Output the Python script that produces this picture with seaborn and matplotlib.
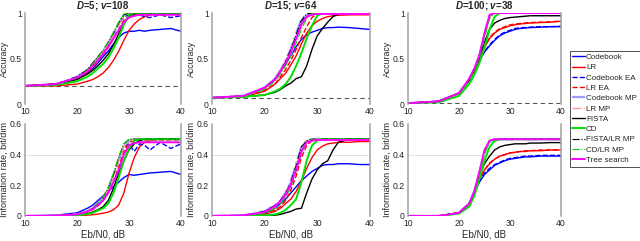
import numpy as np
import matplotlib as mpl
mpl.use("Agg")
import matplotlib.pyplot as plt
import seaborn as sns

EBN0 = [10, 16, 20, 22, 23, 24, 25, 26, 27, 28, 29, 30, 31, 32, 33, 34, 36, 38, 40]

TITLES = ["D=5; v=108", "D=15; v=64", "D=100; v=38"]
CHANCE = [0.2, 1 / 15, 0.01]

# accuracy, D=5
acc_d5 = dict(
    codebook=[0.20, 0.22, 0.28, 0.34, 0.39, 0.45, 0.52, 0.58, 0.66, 0.73, 0.78, 0.80, 0.80, 0.81, 0.80, 0.81, 0.82, 0.83, 0.80],
    lr=[0.20, 0.20, 0.22, 0.25, 0.27, 0.30, 0.34, 0.40, 0.48, 0.58, 0.70, 0.81, 0.88, 0.93, 0.96, 0.98, 1.00, 1.00, 1.00],
    codebook_ea=[0.20, 0.22, 0.29, 0.37, 0.43, 0.50, 0.57, 0.66, 0.76, 0.87, 0.96, 0.98, 0.97, 0.98, 0.96, 0.95, 0.98, 0.95, 0.97],
    lr_ea=[0.20, 0.22, 0.27, 0.34, 0.40, 0.47, 0.54, 0.62, 0.72, 0.82, 0.92, 0.97, 0.98, 0.99, 0.99, 0.99, 0.99, 0.99, 0.99],
    codebook_mp=[0.20, 0.22, 0.30, 0.38, 0.44, 0.51, 0.58, 0.67, 0.77, 0.88, 0.98, 1.00, 1.00, 1.00, 1.00, 1.00, 1.00, 1.00, 1.00],
    lr_mp=[0.20, 0.22, 0.29, 0.37, 0.43, 0.50, 0.57, 0.66, 0.76, 0.87, 0.97, 1.00, 1.00, 1.00, 1.00, 1.00, 1.00, 1.00, 1.00],
    fista=[0.20, 0.22, 0.27, 0.33, 0.37, 0.42, 0.48, 0.55, 0.65, 0.77, 0.89, 0.97, 0.99, 1.00, 1.00, 1.00, 1.00, 1.00, 1.00],
    cd=[0.20, 0.21, 0.25, 0.30, 0.34, 0.39, 0.44, 0.51, 0.61, 0.73, 0.87, 0.98, 1.00, 1.00, 1.00, 1.00, 1.00, 1.00, 1.00],
    fista_mp=[0.20, 0.22, 0.30, 0.38, 0.45, 0.52, 0.59, 0.68, 0.78, 0.89, 0.98, 1.00, 1.00, 1.00, 1.00, 1.00, 1.00, 1.00, 1.00],
    cd_mp=[0.20, 0.22, 0.29, 0.37, 0.44, 0.51, 0.59, 0.68, 0.79, 0.90, 0.99, 1.00, 1.00, 1.00, 1.00, 1.00, 1.00, 1.00, 1.00],
    tree=[0.20, 0.22, 0.29, 0.36, 0.42, 0.48, 0.55, 0.63, 0.72, 0.81, 0.90, 0.95, 0.97, 0.98, 0.98, 0.98, 0.98, 0.98, 0.98],
)

# accuracy, D=15
acc_d15 = dict(
    codebook=[0.07, 0.09, 0.17, 0.27, 0.35, 0.44, 0.53, 0.63, 0.71, 0.76, 0.79, 0.81, 0.83, 0.84, 0.84, 0.845, 0.84, 0.83, 0.82],
    lr=[0.07, 0.08, 0.14, 0.22, 0.28, 0.34, 0.43, 0.53, 0.66, 0.78, 0.86, 0.91, 0.94, 0.96, 0.97, 0.975, 0.98, 0.98, 0.98],
    codebook_ea=[0.07, 0.09, 0.18, 0.28, 0.36, 0.46, 0.58, 0.74, 0.90, 0.98, 1.00, 1.00, 1.00, 1.00, 1.00, 1.00, 1.00, 1.00, 1.00],
    lr_ea=[0.07, 0.08, 0.15, 0.22, 0.30, 0.38, 0.48, 0.60, 0.73, 0.85, 0.95, 0.99, 1.00, 1.00, 1.00, 1.00, 1.00, 1.00, 1.00],
    codebook_mp=[0.07, 0.09, 0.18, 0.28, 0.37, 0.48, 0.61, 0.78, 0.93, 0.99, 1.00, 1.00, 1.00, 1.00, 1.00, 1.00, 1.00, 1.00, 1.00],
    lr_mp=[0.07, 0.09, 0.17, 0.27, 0.35, 0.45, 0.57, 0.72, 0.87, 0.97, 1.00, 1.00, 1.00, 1.00, 1.00, 1.00, 1.00, 1.00, 1.00],
    fista=[0.07, 0.08, 0.10, 0.13, 0.16, 0.20, 0.23, 0.28, 0.30, 0.42, 0.60, 0.75, 0.83, 0.90, 0.96, 0.99, 1.00, 1.00, 1.00],
    cd=[0.07, 0.08, 0.10, 0.14, 0.17, 0.22, 0.30, 0.42, 0.56, 0.72, 0.86, 0.97, 1.00, 1.00, 1.00, 1.00, 1.00, 1.00, 1.00],
    fista_mp=[0.07, 0.09, 0.18, 0.28, 0.36, 0.47, 0.60, 0.76, 0.92, 0.99, 1.00, 1.00, 1.00, 1.00, 1.00, 1.00, 1.00, 1.00, 1.00],
    cd_mp=[0.07, 0.08, 0.16, 0.25, 0.33, 0.42, 0.53, 0.67, 0.82, 0.94, 0.99, 1.00, 1.00, 1.00, 1.00, 1.00, 1.00, 1.00, 1.00],
    tree=[0.07, 0.09, 0.18, 0.27, 0.36, 0.45, 0.57, 0.72, 0.87, 0.96, 0.98, 0.99, 0.99, 0.99, 0.99, 0.99, 0.99, 0.99, 0.99],
)

# accuracy, D=100
acc_d100 = dict(
    codebook=[0.01, 0.03, 0.12, 0.26, 0.36, 0.48, 0.57, 0.64, 0.70, 0.75, 0.78, 0.80, 0.82, 0.83, 0.835, 0.84, 0.845, 0.85, 0.85],
    lr=[0.01, 0.03, 0.12, 0.26, 0.37, 0.50, 0.62, 0.72, 0.78, 0.82, 0.84, 0.86, 0.87, 0.88, 0.885, 0.89, 0.895, 0.90, 0.91],
    codebook_ea=[0.01, 0.03, 0.12, 0.26, 0.37, 0.49, 0.58, 0.65, 0.71, 0.76, 0.79, 0.81, 0.83, 0.84, 0.84, 0.845, 0.85, 0.85, 0.855],
    lr_ea=[0.01, 0.03, 0.12, 0.26, 0.37, 0.50, 0.63, 0.73, 0.79, 0.83, 0.85, 0.87, 0.88, 0.885, 0.89, 0.895, 0.90, 0.905, 0.91],
    codebook_mp=[0.01, 0.03, 0.12, 0.27, 0.38, 0.53, 0.76, 0.97, 1.00, 1.00, 1.00, 1.00, 1.00, 1.00, 1.00, 1.00, 1.00, 1.00, 1.00],
    lr_mp=[0.01, 0.03, 0.12, 0.27, 0.38, 0.53, 0.75, 0.96, 1.00, 1.00, 1.00, 1.00, 1.00, 1.00, 1.00, 1.00, 1.00, 1.00, 1.00],
    fista=[0.01, 0.03, 0.12, 0.26, 0.37, 0.51, 0.68, 0.82, 0.89, 0.92, 0.94, 0.95, 0.955, 0.96, 0.965, 0.97, 0.97, 0.97, 0.97],
    cd=[0.01, 0.02, 0.09, 0.22, 0.32, 0.45, 0.62, 0.82, 0.96, 1.00, 1.00, 1.00, 1.00, 1.00, 1.00, 1.00, 1.00, 1.00, 1.00],
    fista_mp=[0.01, 0.03, 0.12, 0.27, 0.38, 0.53, 0.76, 0.97, 1.00, 1.00, 1.00, 1.00, 1.00, 1.00, 1.00, 1.00, 1.00, 1.00, 1.00],
    cd_mp=[0.01, 0.03, 0.11, 0.25, 0.36, 0.50, 0.72, 0.94, 1.00, 1.00, 1.00, 1.00, 1.00, 1.00, 1.00, 1.00, 1.00, 1.00, 1.00],
    tree=[0.01, 0.03, 0.12, 0.28, 0.39, 0.54, 0.78, 0.98, 1.00, 1.00, 1.00, 1.00, 1.00, 1.00, 1.00, 1.00, 1.00, 1.00, 1.00],
)

# information rate (bit/dim), D=5
rate_d5 = dict(
    codebook=[0.0, 0.005, 0.02, 0.05, 0.07, 0.10, 0.13, 0.16, 0.19, 0.22, 0.25, 0.27, 0.265, 0.27, 0.275, 0.28, 0.285, 0.29, 0.27],
    lr=[0.0, 0.0, 0.002, 0.005, 0.008, 0.012, 0.018, 0.025, 0.04, 0.07, 0.15, 0.28, 0.38, 0.45, 0.48, 0.49, 0.50, 0.50, 0.50],
    codebook_ea=[0.0, 0.002, 0.01, 0.03, 0.05, 0.08, 0.12, 0.17, 0.26, 0.36, 0.45, 0.47, 0.42, 0.47, 0.46, 0.43, 0.48, 0.44, 0.47],
    lr_ea=[0.0, 0.002, 0.01, 0.025, 0.04, 0.065, 0.10, 0.15, 0.22, 0.32, 0.42, 0.48, 0.49, 0.495, 0.495, 0.495, 0.495, 0.495, 0.495],
    codebook_mp=[0.0, 0.002, 0.01, 0.03, 0.05, 0.08, 0.12, 0.18, 0.27, 0.37, 0.46, 0.49, 0.50, 0.50, 0.50, 0.50, 0.50, 0.50, 0.50],
    lr_mp=[0.0, 0.002, 0.01, 0.03, 0.05, 0.08, 0.12, 0.17, 0.26, 0.36, 0.45, 0.49, 0.50, 0.50, 0.50, 0.50, 0.50, 0.50, 0.50],
    fista=[0.0, 0.0, 0.005, 0.015, 0.025, 0.04, 0.06, 0.10, 0.18, 0.28, 0.36, 0.43, 0.47, 0.49, 0.50, 0.50, 0.50, 0.50, 0.50],
    cd=[0.0, 0.0, 0.004, 0.012, 0.02, 0.035, 0.05, 0.08, 0.15, 0.25, 0.36, 0.44, 0.49, 0.50, 0.50, 0.50, 0.50, 0.50, 0.50],
    fista_mp=[0.0, 0.002, 0.01, 0.03, 0.05, 0.08, 0.12, 0.18, 0.27, 0.38, 0.47, 0.50, 0.50, 0.50, 0.50, 0.50, 0.50, 0.50, 0.50],
    cd_mp=[0.0, 0.002, 0.01, 0.03, 0.05, 0.08, 0.12, 0.18, 0.28, 0.38, 0.47, 0.50, 0.50, 0.50, 0.50, 0.50, 0.50, 0.50, 0.50],
    tree=[0.0, 0.002, 0.01, 0.03, 0.045, 0.07, 0.10, 0.15, 0.22, 0.30, 0.40, 0.46, 0.475, 0.48, 0.48, 0.48, 0.48, 0.48, 0.48],
)

# information rate (bit/dim), D=15
rate_d15 = dict(
    codebook=[0.0, 0.005, 0.02, 0.05, 0.08, 0.11, 0.15, 0.19, 0.23, 0.26, 0.29, 0.31, 0.33, 0.335, 0.335, 0.34, 0.34, 0.335, 0.335],
    lr=[0.0, 0.002, 0.01, 0.03, 0.05, 0.08, 0.11, 0.16, 0.23, 0.31, 0.38, 0.43, 0.455, 0.47, 0.475, 0.48, 0.48, 0.485, 0.485],
    codebook_ea=[0.0, 0.003, 0.02, 0.06, 0.09, 0.13, 0.20, 0.30, 0.42, 0.48, 0.50, 0.50, 0.50, 0.50, 0.50, 0.50, 0.50, 0.50, 0.50],
    lr_ea=[0.0, 0.002, 0.01, 0.04, 0.06, 0.10, 0.17, 0.26, 0.38, 0.46, 0.49, 0.50, 0.50, 0.50, 0.50, 0.50, 0.50, 0.50, 0.50],
    codebook_mp=[0.0, 0.003, 0.03, 0.07, 0.10, 0.15, 0.23, 0.34, 0.45, 0.49, 0.50, 0.50, 0.50, 0.50, 0.50, 0.50, 0.50, 0.50, 0.50],
    lr_mp=[0.0, 0.003, 0.02, 0.06, 0.09, 0.14, 0.21, 0.31, 0.43, 0.49, 0.50, 0.50, 0.50, 0.50, 0.50, 0.50, 0.50, 0.50, 0.50],
    fista=[0.0, 0.0, 0.0, 0.005, 0.01, 0.02, 0.03, 0.045, 0.05, 0.15, 0.24, 0.30, 0.34, 0.36, 0.43, 0.48, 0.50, 0.50, 0.50],
    cd=[0.0, 0.0, 0.003, 0.01, 0.02, 0.04, 0.07, 0.11, 0.22, 0.36, 0.46, 0.49, 0.50, 0.50, 0.50, 0.50, 0.50, 0.50, 0.50],
    fista_mp=[0.0, 0.003, 0.03, 0.07, 0.10, 0.15, 0.22, 0.33, 0.45, 0.49, 0.50, 0.50, 0.50, 0.50, 0.50, 0.50, 0.50, 0.50, 0.50],
    cd_mp=[0.0, 0.002, 0.015, 0.05, 0.08, 0.12, 0.19, 0.29, 0.41, 0.48, 0.50, 0.50, 0.50, 0.50, 0.50, 0.50, 0.50, 0.50, 0.50],
    tree=[0.0, 0.003, 0.025, 0.065, 0.095, 0.14, 0.21, 0.30, 0.42, 0.48, 0.49, 0.495, 0.495, 0.495, 0.495, 0.495, 0.495, 0.495, 0.495],
)

# information rate (bit/dim), D=100
rate_d100 = dict(
    codebook=[0.0, 0.0, 0.02, 0.08, 0.15, 0.22, 0.27, 0.30, 0.33, 0.345, 0.36, 0.37, 0.375, 0.38, 0.385, 0.385, 0.39, 0.39, 0.39],
    lr=[0.0, 0.0, 0.02, 0.08, 0.15, 0.24, 0.30, 0.34, 0.37, 0.39, 0.40, 0.41, 0.415, 0.42, 0.42, 0.425, 0.425, 0.43, 0.43],
    codebook_ea=[0.0, 0.0, 0.02, 0.08, 0.15, 0.23, 0.28, 0.31, 0.335, 0.35, 0.365, 0.375, 0.38, 0.385, 0.39, 0.39, 0.395, 0.395, 0.395],
    lr_ea=[0.0, 0.0, 0.02, 0.08, 0.15, 0.24, 0.30, 0.345, 0.37, 0.39, 0.40, 0.41, 0.415, 0.42, 0.425, 0.425, 0.43, 0.43, 0.43],
    codebook_mp=[0.0, 0.0, 0.02, 0.08, 0.16, 0.28, 0.42, 0.49, 0.50, 0.50, 0.50, 0.50, 0.50, 0.50, 0.50, 0.50, 0.50, 0.50, 0.50],
    lr_mp=[0.0, 0.0, 0.02, 0.08, 0.16, 0.28, 0.41, 0.49, 0.50, 0.50, 0.50, 0.50, 0.50, 0.50, 0.50, 0.50, 0.50, 0.50, 0.50],
    fista=[0.0, 0.0, 0.02, 0.08, 0.15, 0.26, 0.34, 0.39, 0.43, 0.45, 0.46, 0.465, 0.47, 0.47, 0.47, 0.475, 0.475, 0.478, 0.478],
    cd=[0.0, 0.0, 0.015, 0.06, 0.13, 0.24, 0.36, 0.45, 0.49, 0.50, 0.50, 0.50, 0.50, 0.50, 0.50, 0.50, 0.50, 0.50, 0.50],
    fista_mp=[0.0, 0.0, 0.02, 0.08, 0.16, 0.28, 0.42, 0.49, 0.50, 0.50, 0.50, 0.50, 0.50, 0.50, 0.50, 0.50, 0.50, 0.50, 0.50],
    cd_mp=[0.0, 0.0, 0.018, 0.07, 0.15, 0.26, 0.40, 0.48, 0.50, 0.50, 0.50, 0.50, 0.50, 0.50, 0.50, 0.50, 0.50, 0.50, 0.50],
    tree=[0.0, 0.0, 0.02, 0.08, 0.16, 0.29, 0.43, 0.49, 0.50, 0.50, 0.50, 0.50, 0.50, 0.50, 0.50, 0.50, 0.50, 0.50, 0.50],
)

# key, legend label, colour, linestyle, linewidth
SERIES = [
    ("codebook", "Codebook", "#0000ff", "-", 1.0),
    ("lr", "LR", "#ff0000", "-", 1.0),
    ("codebook_ea", "Codebook EA", "#0000ff", "--", 1.0),
    ("lr_ea", "LR EA", "#ff0000", "--", 1.0),
    ("codebook_mp", "Codebook MP", "#9a9aff", "-.", 1.6),
    ("lr_mp", "LR MP", "#ff9a9a", "-.", 1.0),
    ("fista", "FISTA", "#000000", "-", 1.0),
    ("cd", "CD", "#00e000", "-", 1.4),
    ("fista_mp", "FISTA/LR MP", "#000000", "-.", 0.8),
    ("cd_mp", "CD/LR MP", "#00e000", "-.", 0.8),
    ("tree", "Tree search", "#ff00ff", "-", 1.4),
]

sns.set_style("white")
plt.rcParams["font.family"] = ["Liberation Sans", "DejaVu Sans"]
plt.rcParams["mathtext.fontset"] = "custom"
plt.rcParams["mathtext.bfit"] = "Liberation Sans:italic:bold"
plt.rcParams["mathtext.rm"] = "Liberation Sans:bold"

fig = plt.figure(figsize=(6.4, 2.41), dpi=100)
lefts = [0.039, 0.331, 0.6375]
widths = [0.244, 0.247, 0.239]

top_data = [acc_d5, acc_d15, acc_d100]
bot_data = [rate_d5, rate_d15, rate_d100]


def style_axes(ax):
    for s in ["top", "bottom"]:
        ax.spines[s].set_visible(False)
    for s in ["left", "right"]:
        ax.spines[s].set_color("#a0a0a0")
        ax.spines[s].set_linewidth(1.1)
    ax.tick_params(length=0, labelsize=6.2, pad=2.2)
    ax.set_xlim(10, 40)
    ax.set_xticks([10, 20, 30, 40])
    ax.set_facecolor("white")


handles = []
for i in range(3):
    ax = fig.add_axes([lefts[i], 0.568, widths[i], 0.378])
    style_axes(ax)
    ax.axhline(CHANCE[i], color="#555555", ls=(0, (4, 3)), lw=0.8)
    for key, label, col, ls, lw in SERIES:
        sns.lineplot(x=EBN0, y=top_data[i][key], ax=ax, color=col,
                     linestyle=ls, lw=lw, label=label, legend=False)
    ax.set_ylim(0, 1)
    ax.set_yticks([0, 0.5, 1])
    ax.set_yticklabels(["0", "0.5", "1"])
    ax.set_ylabel("Accuracy", fontsize=6.3, labelpad=0.5)
    d, v = TITLES[i].split("; ")
    ax.set_title(r"$\mathbfit{D}$" + d[1:] + "; " + r"$\mathbfit{v}$" + v[1:],
                 fontsize=7, fontweight="bold", pad=3)
    if i == 0:
        handles = ax.get_lines()[1:]

    ax2 = fig.add_axes([lefts[i], 0.104, widths[i], 0.382])
    style_axes(ax2)
    ax2.axhline(0.4, color="#dddddd", lw=0.6)
    for key, label, col, ls, lw in SERIES:
        sns.lineplot(x=EBN0, y=bot_data[i][key], ax=ax2, color=col,
                     linestyle=ls, lw=lw, legend=False)
    ax2.set_ylim(0, 0.6)
    ax2.set_yticks([0, 0.2, 0.4, 0.6])
    ax2.set_yticklabels(["0", "0.2", "0.4", "0.6"])
    ax2.set_ylabel("Information rate, bit/dim", fontsize=6.5, labelpad=0.5)
    ax2.set_xlabel("Eb/N0, dB", fontsize=7, labelpad=1)

leg = fig.legend(handles, [s[1] for s in SERIES], loc="upper left",
                 bbox_to_anchor=(0.890, 0.79), fontsize=5.8, frameon=True,
                 fancybox=False, edgecolor="black", handlelength=1.5,
                 handletextpad=0.2, labelspacing=0.33, borderpad=0.35,
                 borderaxespad=0)
leg.get_frame().set_linewidth(0.6)

fig.savefig("out.png", dpi=100)
